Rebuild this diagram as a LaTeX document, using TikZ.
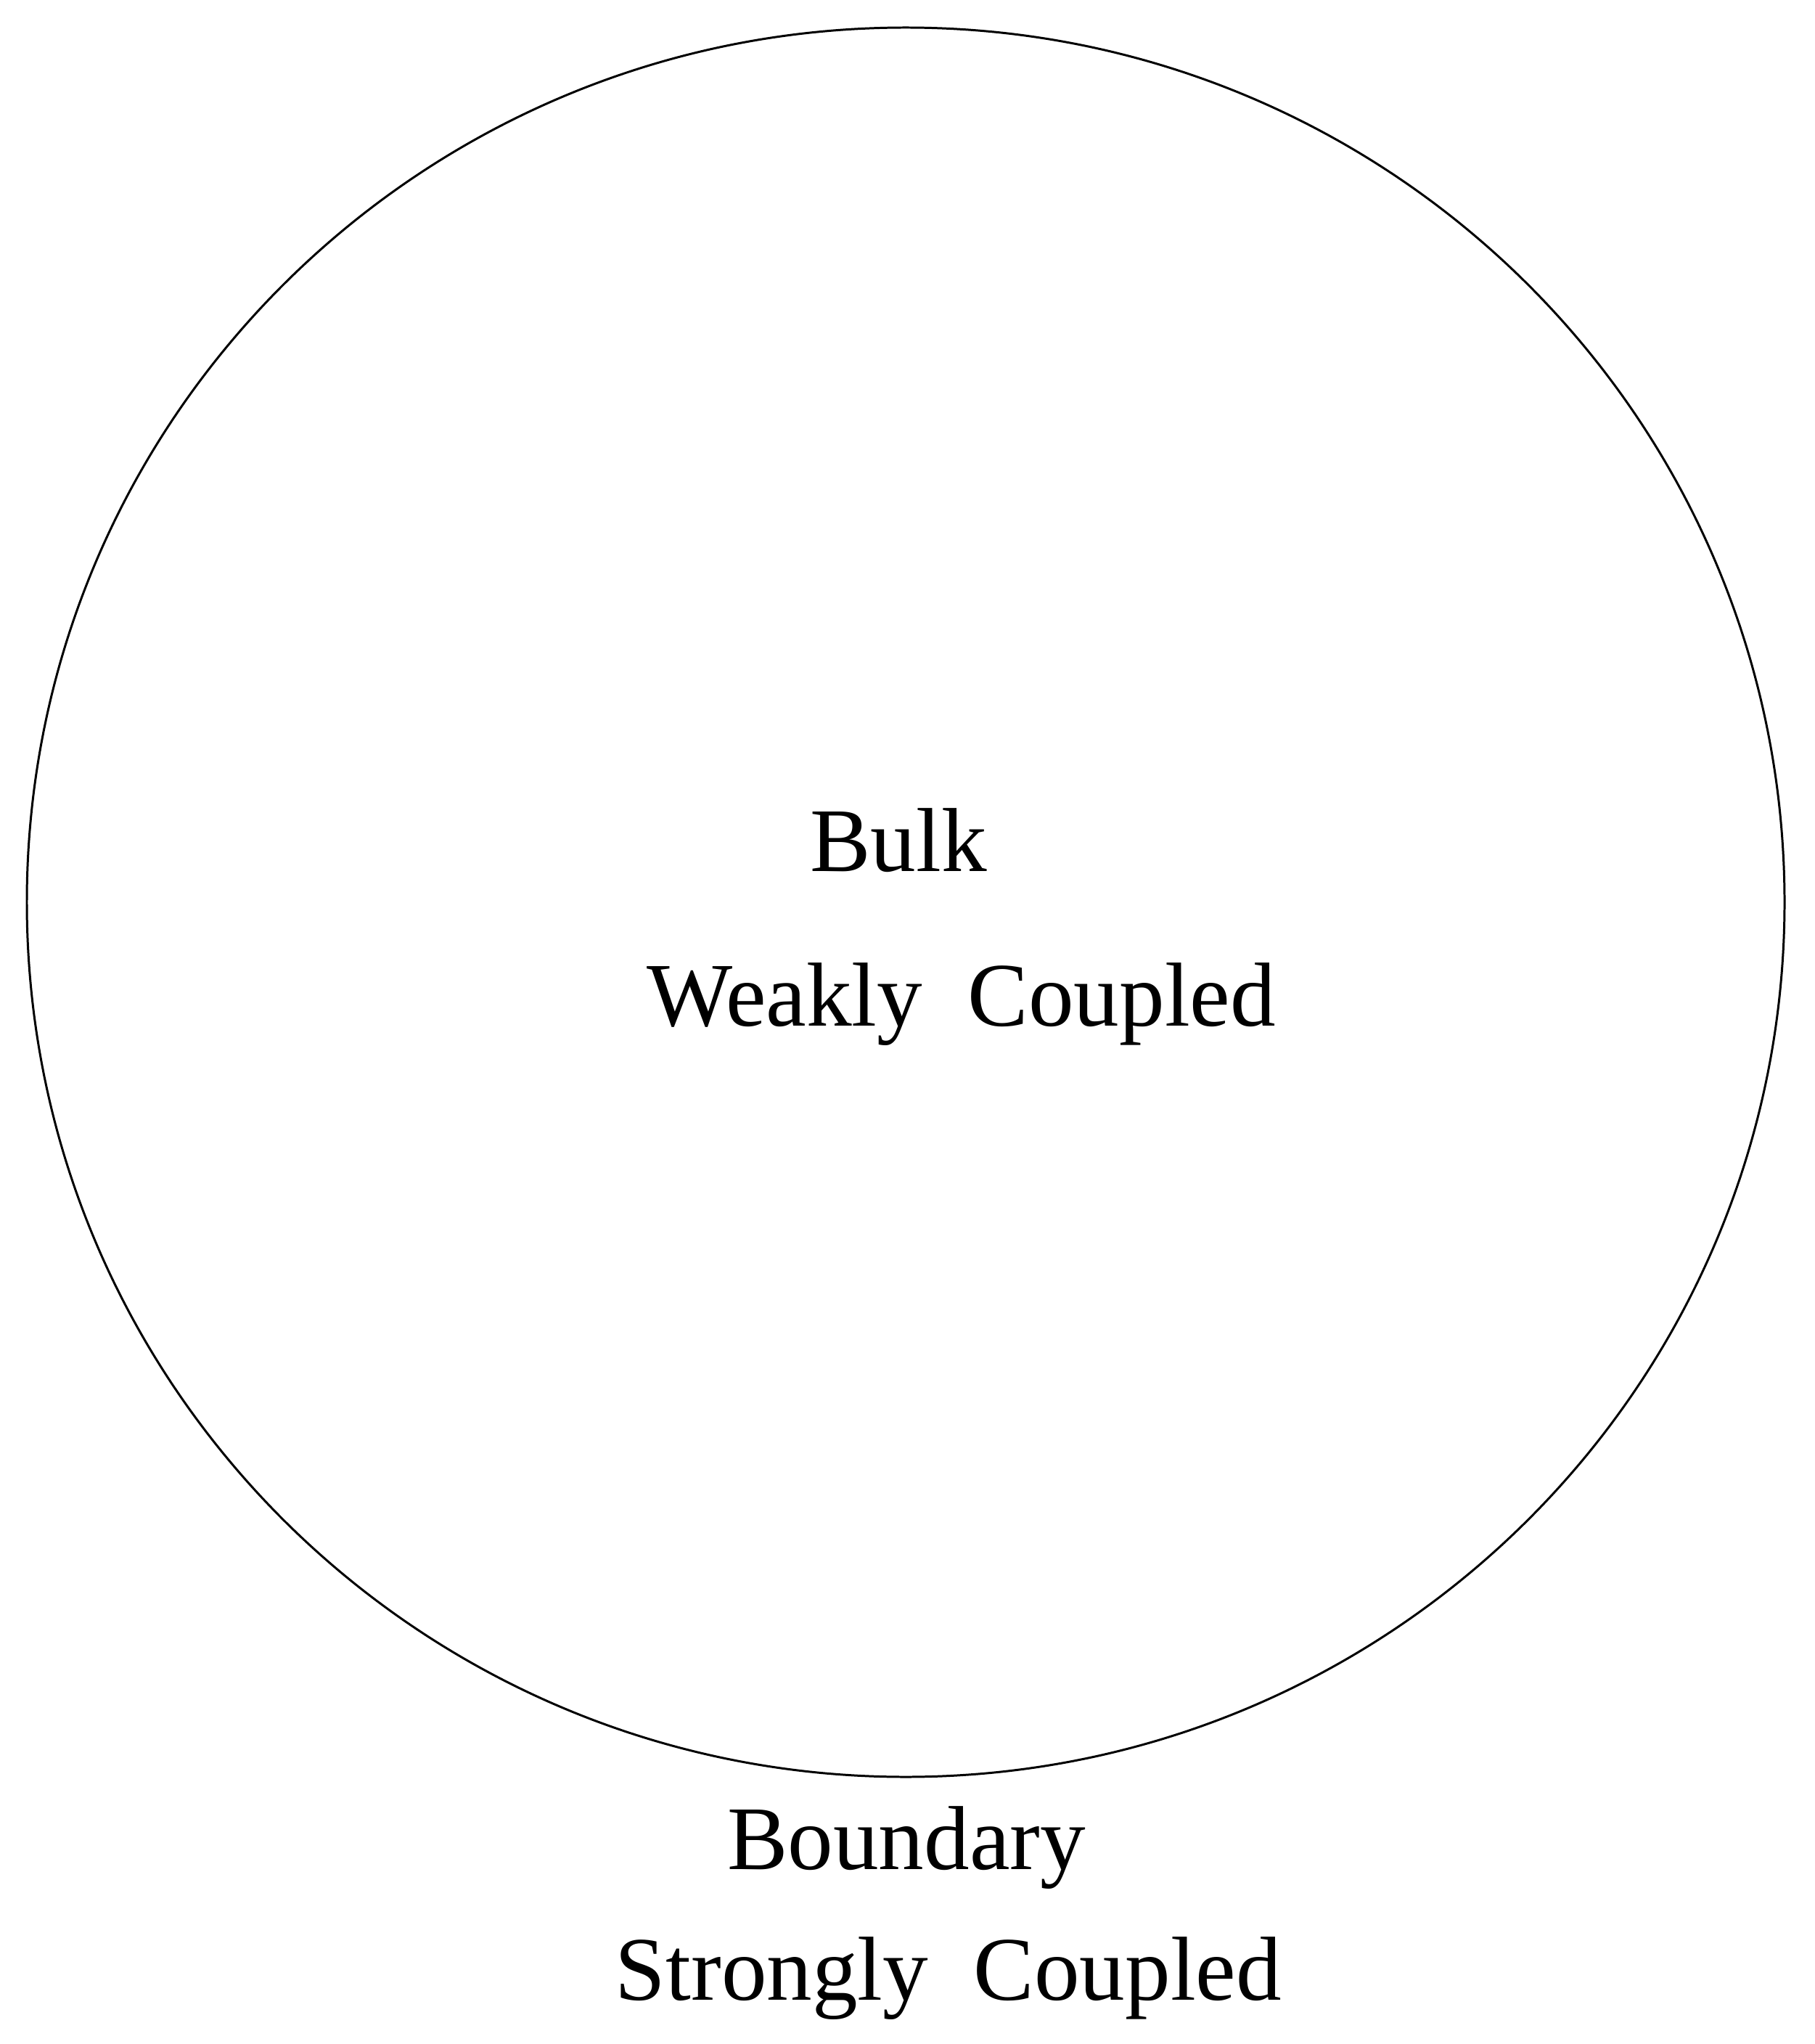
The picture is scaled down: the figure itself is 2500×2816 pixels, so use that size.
\documentclass[tikz,border=0pt]{standalone}
\usepackage{fontspec}
\setmainfont{Liberation Serif}
\tikzset{
  lbl/.style={anchor=base, inner sep=0pt, font=\fontsize{35.6}{42}\selectfont},
  rim/.style={draw=black, line width=0.85pt}
}
\begin{document}
\begin{tikzpicture}[x=0.01cm, y=-0.01cm]
\useasboundingbox (0,0) rectangle (2500,2816);
\draw[rim] (1248,1243) ellipse [x radius=1211, y radius=1205];
\node[lbl] (bulk) at (1238,1200) {Bulk};
\node[lbl] (weak) at (1325,1413) {Weakly\ \ Coupled};
\node[lbl] (bound) at (1249,2575) {Boundary};
\node[lbl] (strong) at (1307,2755) {Strongly\ \ Coupled};
\end{tikzpicture}
\end{document}
